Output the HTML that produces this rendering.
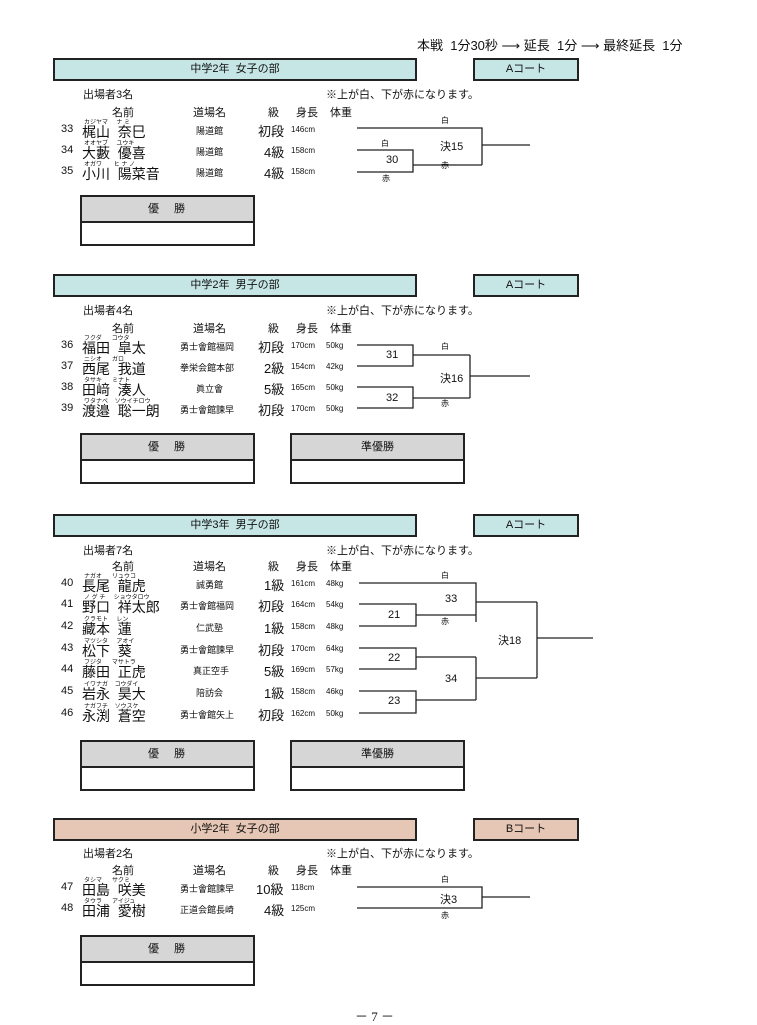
<!DOCTYPE html>
<html><head><meta charset="utf-8"><style>
body{margin:0;width:757px;height:1024px;background:#fff;position:relative;overflow:hidden;font-family:"Liberation Sans","Noto Sans CJK JP",sans-serif;color:#111}
.a{position:absolute;white-space:nowrap}
.hd{position:absolute;border:2px solid #222;background:#c6e6e6;font-size:11px;text-align:center;line-height:19px;box-sizing:border-box;height:23px}
.pk{background:#e6c6b4}
.wb{position:absolute;border:2px solid #222;width:175px;height:51px;box-sizing:border-box}
.wb div{height:24px;background:#d6d6d6;border-bottom:2px solid #222;text-align:center;font-size:11px;line-height:24px;letter-spacing:2px}
.n{font-size:11px}.nm{font-size:14px}.fu{font-size:6px}.dj{font-size:9px}.gr{font-size:13px}.sm{font-size:8px}.t{font-size:11px}.lb{font-size:8px}
.sm i{display:inline-block;width:11px}
</style></head><body>
<div class="a" style="left:417px;top:35px;font-size:13px">本戦&nbsp; 1分30秒 ⟶ 延長&nbsp; 1分 ⟶ 最終延長&nbsp; 1分</div>

<!-- Section 1 -->
<div class="hd" style="left:53px;top:58px;width:364px">中学2年&nbsp; 女子の部</div>
<div class="hd" style="left:473px;top:58px;width:106px">Aコート</div>
<div class="a t" style="left:83px;top:86px">出場者3名</div>
<div class="a t" style="left:326px;top:86px">※上が白、下が赤になります。</div>
<div class="a t" style="left:112px;top:104px">名前</div><div class="a t" style="left:193px;top:104px">道場名</div><div class="a t" style="left:268px;top:104px">級</div><div class="a t" style="left:296px;top:104px">身長</div><div class="a t" style="left:330px;top:104px">体重</div>

<div class="a n" style="left:61px;top:123px">33</div><div class="a fu" style="left:84px;top:117px">カジヤマ&nbsp;&nbsp;&nbsp;&nbsp; ナ ミ</div><div class="a nm" style="left:82px;top:122px">梶山&nbsp; 奈巳</div><div class="a dj" style="left:196px;top:124px">陽道館</div><div class="a gr" style="left:258px;top:121px">初段</div><div class="a sm" style="left:291px;top:125px">146cm</div>
<div class="a n" style="left:61px;top:144px">34</div><div class="a fu" style="left:84px;top:138px">オオヤブ&nbsp;&nbsp;&nbsp;&nbsp; ユウキ</div><div class="a nm" style="left:82px;top:143px">大藪&nbsp; 優喜</div><div class="a dj" style="left:196px;top:145px">陽道館</div><div class="a gr" style="left:264px;top:142px">4級</div><div class="a sm" style="left:291px;top:146px">158cm</div>
<div class="a n" style="left:61px;top:165px">35</div><div class="a fu" style="left:84px;top:159px">オガワ&nbsp;&nbsp;&nbsp;&nbsp;&nbsp;&nbsp; ヒ ナ ノ</div><div class="a nm" style="left:82px;top:164px">小川&nbsp; 陽菜音</div><div class="a dj" style="left:196px;top:166px">陽道館</div><div class="a gr" style="left:264px;top:163px">4級</div><div class="a sm" style="left:291px;top:167px">158cm</div>
<div class="wb" style="left:80px;top:195px"><div>優　勝</div></div>

<!-- Section 2 -->
<div class="hd" style="left:53px;top:274px;width:364px">中学2年&nbsp; 男子の部</div>
<div class="hd" style="left:473px;top:274px;width:106px">Aコート</div>
<div class="a t" style="left:83px;top:302px">出場者4名</div>
<div class="a t" style="left:326px;top:302px">※上が白、下が赤になります。</div>
<div class="a t" style="left:112px;top:320px">名前</div><div class="a t" style="left:193px;top:320px">道場名</div><div class="a t" style="left:268px;top:320px">級</div><div class="a t" style="left:296px;top:320px">身長</div><div class="a t" style="left:330px;top:320px">体重</div>
<div class="a n" style="left:61px;top:339px">36</div><div class="a fu" style="left:84px;top:333px">フクダ&nbsp;&nbsp;&nbsp;&nbsp;&nbsp; コウタ</div><div class="a nm" style="left:82px;top:338px">福田&nbsp; 皐太</div><div class="a dj" style="left:180px;top:340px">勇士會館福岡</div><div class="a gr" style="left:258px;top:337px">初段</div><div class="a sm" style="left:291px;top:341px">170cm<i></i>50kg</div>
<div class="a n" style="left:61px;top:360px">37</div><div class="a fu" style="left:84px;top:354px">ニシオ&nbsp;&nbsp;&nbsp;&nbsp;&nbsp; ガロ</div><div class="a nm" style="left:82px;top:359px">西尾&nbsp; 我道</div><div class="a dj" style="left:180px;top:361px">拳栄会館本部</div><div class="a gr" style="left:264px;top:358px">2級</div><div class="a sm" style="left:291px;top:362px">154cm<i></i>42kg</div>
<div class="a n" style="left:61px;top:381px">38</div><div class="a fu" style="left:84px;top:375px">タサキ&nbsp;&nbsp;&nbsp;&nbsp;&nbsp; ミナト</div><div class="a nm" style="left:82px;top:380px">田﨑&nbsp; 湊人</div><div class="a dj" style="left:196px;top:382px">眞立會</div><div class="a gr" style="left:264px;top:379px">5級</div><div class="a sm" style="left:291px;top:383px">165cm<i></i>50kg</div>
<div class="a n" style="left:61px;top:402px">39</div><div class="a fu" style="left:84px;top:396px">ワタナベ&nbsp;&nbsp;&nbsp; ソウイチロウ</div><div class="a nm" style="left:82px;top:401px">渡邉&nbsp; 聡一朗</div><div class="a dj" style="left:180px;top:403px">勇士會館諫早</div><div class="a gr" style="left:258px;top:400px">初段</div><div class="a sm" style="left:291px;top:404px">170cm<i></i>50kg</div>
<div class="wb" style="left:80px;top:433px"><div>優　勝</div></div>
<div class="wb" style="left:290px;top:433px"><div style="letter-spacing:0">準優勝</div></div>

<!-- Section 3 -->
<div class="hd" style="left:53px;top:514px;width:364px">中学3年&nbsp; 男子の部</div>
<div class="hd" style="left:473px;top:514px;width:106px">Aコート</div>
<div class="a t" style="left:83px;top:542px">出場者7名</div>
<div class="a t" style="left:326px;top:542px">※上が白、下が赤になります。</div>
<div class="a t" style="left:112px;top:558px">名前</div><div class="a t" style="left:193px;top:558px">道場名</div><div class="a t" style="left:268px;top:558px">級</div><div class="a t" style="left:296px;top:558px">身長</div><div class="a t" style="left:330px;top:558px">体重</div>
<div class="a n" style="left:61px;top:577px">40</div><div class="a fu" style="left:84px;top:571px">ナガオ&nbsp;&nbsp;&nbsp;&nbsp;&nbsp; リュウコ</div><div class="a nm" style="left:82px;top:576px">長尾&nbsp; 龍虎</div><div class="a dj" style="left:196px;top:578px">誠勇館</div><div class="a gr" style="left:264px;top:575px">1級</div><div class="a sm" style="left:291px;top:579px">161cm<i></i>48kg</div>
<div class="a n" style="left:61px;top:598px">41</div><div class="a fu" style="left:84px;top:592px">ノ グ チ&nbsp;&nbsp;&nbsp;&nbsp; ショウタロウ</div><div class="a nm" style="left:82px;top:597px">野口&nbsp; 祥太郎</div><div class="a dj" style="left:180px;top:599px">勇士會館福岡</div><div class="a gr" style="left:258px;top:596px">初段</div><div class="a sm" style="left:291px;top:600px">164cm<i></i>54kg</div>
<div class="a n" style="left:61px;top:620px">42</div><div class="a fu" style="left:84px;top:614px">クラモト&nbsp;&nbsp;&nbsp;&nbsp; レン</div><div class="a nm" style="left:82px;top:619px">藏本&nbsp; 蓮</div><div class="a dj" style="left:196px;top:621px">仁武塾</div><div class="a gr" style="left:264px;top:618px">1級</div><div class="a sm" style="left:291px;top:622px">158cm<i></i>48kg</div>
<div class="a n" style="left:61px;top:642px">43</div><div class="a fu" style="left:84px;top:636px">マツシタ&nbsp;&nbsp;&nbsp;&nbsp; アオイ</div><div class="a nm" style="left:82px;top:641px">松下&nbsp; 葵</div><div class="a dj" style="left:180px;top:643px">勇士會館諫早</div><div class="a gr" style="left:258px;top:640px">初段</div><div class="a sm" style="left:291px;top:644px">170cm<i></i>64kg</div>
<div class="a n" style="left:61px;top:663px">44</div><div class="a fu" style="left:84px;top:657px">フジタ&nbsp;&nbsp;&nbsp;&nbsp;&nbsp; マサトラ</div><div class="a nm" style="left:82px;top:662px">藤田&nbsp; 正虎</div><div class="a dj" style="left:193px;top:664px">真正空手</div><div class="a gr" style="left:264px;top:661px">5級</div><div class="a sm" style="left:291px;top:665px">169cm<i></i>57kg</div>
<div class="a n" style="left:61px;top:685px">45</div><div class="a fu" style="left:84px;top:679px">イワナガ&nbsp;&nbsp;&nbsp; コウダイ</div><div class="a nm" style="left:82px;top:684px">岩永&nbsp; 昊大</div><div class="a dj" style="left:196px;top:686px">陪訪会</div><div class="a gr" style="left:264px;top:683px">1級</div><div class="a sm" style="left:291px;top:687px">158cm<i></i>46kg</div>
<div class="a n" style="left:61px;top:707px">46</div><div class="a fu" style="left:84px;top:701px">ナガフチ&nbsp;&nbsp;&nbsp; ソウスケ</div><div class="a nm" style="left:82px;top:706px">永渕&nbsp; 蒼空</div><div class="a dj" style="left:180px;top:708px">勇士會館矢上</div><div class="a gr" style="left:258px;top:705px">初段</div><div class="a sm" style="left:291px;top:709px">162cm<i></i>50kg</div>
<div class="wb" style="left:80px;top:740px"><div>優　勝</div></div>
<div class="wb" style="left:290px;top:740px"><div style="letter-spacing:0">準優勝</div></div>

<!-- Section 4 -->
<div class="hd pk" style="left:53px;top:818px;width:364px">小学2年&nbsp; 女子の部</div>
<div class="hd pk" style="left:473px;top:818px;width:106px">Bコート</div>
<div class="a t" style="left:83px;top:845px">出場者2名</div>
<div class="a t" style="left:326px;top:845px">※上が白、下が赤になります。</div>
<div class="a t" style="left:112px;top:862px">名前</div><div class="a t" style="left:193px;top:862px">道場名</div><div class="a t" style="left:268px;top:862px">級</div><div class="a t" style="left:296px;top:862px">身長</div><div class="a t" style="left:330px;top:862px">体重</div>
<div class="a n" style="left:61px;top:881px">47</div><div class="a fu" style="left:84px;top:875px">タシマ&nbsp;&nbsp;&nbsp;&nbsp;&nbsp; サクミ</div><div class="a nm" style="left:82px;top:880px">田島&nbsp; 咲美</div><div class="a dj" style="left:180px;top:882px">勇士會館諫早</div><div class="a gr" style="left:256px;top:879px">10級</div><div class="a sm" style="left:291px;top:883px">118cm</div>
<div class="a n" style="left:61px;top:902px">48</div><div class="a fu" style="left:84px;top:896px">タウラ&nbsp;&nbsp;&nbsp;&nbsp;&nbsp; アイジュ</div><div class="a nm" style="left:82px;top:901px">田浦&nbsp; 愛樹</div><div class="a dj" style="left:180px;top:903px">正道会館長崎</div><div class="a gr" style="left:264px;top:900px">4級</div><div class="a sm" style="left:291px;top:904px">125cm</div>
<div class="wb" style="left:80px;top:935px"><div>優　勝</div></div>

<svg class="a" style="left:0;top:0" width="757" height="1024" fill="none" stroke="#222" stroke-width="1.3">
<path d="M357 128H482V165M357 150H413V172H357M413 165H482M482 145H530"/>
<path d="M357 345H413V366H357M413 355H470M357 387H413V408H357M413 398H470M470 355V398M470 376H530"/>
<path d="M359 583H476V622M359 604H416V626H359M416 615H476M476 602H537M359 648H416V669H359M416 657H476M359 691H416V713H359M416 700H476M476 657V700M476 678H537M537 602V678M537 638H593"/>
<path d="M357 887H482V908H357M482 897H530"/>
</svg>
<div class="a lb" style="left:441px;top:115px">白</div><div class="a lb" style="left:381px;top:138px">白</div><div class="a t" style="left:386px;top:154px">30</div><div class="a lb" style="left:382px;top:173px">赤</div><div class="a lb" style="left:441px;top:160px">赤</div><div class="a t" style="left:440px;top:138px">決15</div>
<div class="a lb" style="left:441px;top:341px">白</div><div class="a t" style="left:386px;top:349px">31</div><div class="a t" style="left:386px;top:392px">32</div><div class="a t" style="left:440px;top:370px">決16</div><div class="a lb" style="left:441px;top:398px">赤</div>
<div class="a lb" style="left:441px;top:570px">白</div><div class="a t" style="left:445px;top:593px">33</div><div class="a lb" style="left:441px;top:616px">赤</div><div class="a t" style="left:388px;top:609px">21</div><div class="a t" style="left:388px;top:652px">22</div><div class="a t" style="left:445px;top:673px">34</div><div class="a t" style="left:388px;top:695px">23</div><div class="a t" style="left:498px;top:632px">決18</div>
<div class="a lb" style="left:441px;top:874px">白</div><div class="a t" style="left:440px;top:891px">決3</div><div class="a lb" style="left:441px;top:910px">赤</div>
<div class="a" style="left:355px;top:1006px;font-family:'Liberation Serif',serif;font-size:13px">－ 7 －</div>
</body></html>
